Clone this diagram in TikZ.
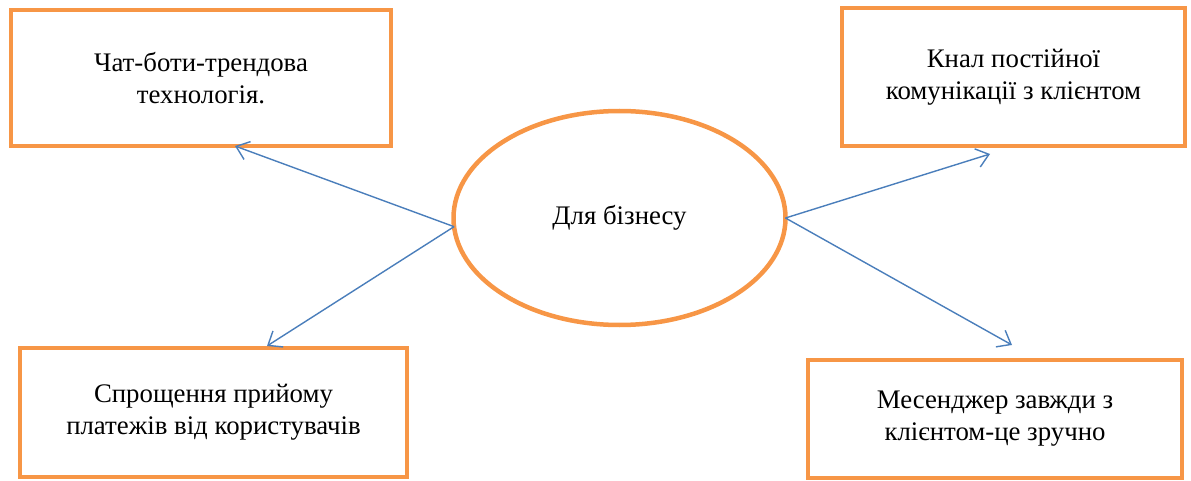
\documentclass[tikz,border=0pt]{standalone}
\usepackage{fontspec}
\setmainfont{Liberation Serif}
\usetikzlibrary{arrows.meta,shapes.geometric,calc}
\definecolor{boxorange}{HTML}{F79646}
\definecolor{linkblue}{HTML}{4A7EBB}
\tikzset{
  ideabox/.style={draw=boxorange, line width=4.5pt, rectangle, inner sep=0pt, outer sep=0pt,
    align=center, font=\fontsize{26.8}{32}\selectfont, text=black},
  hub/.style={draw=boxorange, line width=4.5pt, ellipse, inner sep=0pt, outer sep=0pt,
    minimum width=332pt, minimum height=214pt, font=\fontsize{26.8}{32}\selectfont},
  link/.style={draw=linkblue, line width=1.4pt, -{Straight Barb[length=12pt,width=19pt,line width=1.4pt]}}
}
\begin{document}
\begin{tikzpicture}[x=1pt,y=-1pt]
\useasboundingbox (0,0) rectangle (1191,481);
\node[ideabox, minimum width=380pt, minimum height=136pt] (tl) at (201,78) {Чат-боти-трендова\\технологія.};
\node[ideabox, minimum width=343pt, minimum height=138pt] (tr) at (1013.5,77) {Кнал постійної\\комунікації з клієнтом};
\node[ideabox, minimum width=387pt, minimum height=129pt] (bl) at (213.5,412.5) {Спрощення прийому\\платежів від користувачів};
\node[ideabox, minimum width=374pt, minimum height=118pt] (br) at (995,419) {Месенджер завжди з\\клієнтом-це зручно};
\node[hub] (e) at (619.5,218) {Для бізнесу};
\draw[link] (e.183) -- ([xshift=224pt]tl.south west);
\draw[link] (e.183) -- ([xshift=247pt,yshift=2pt]bl.north west);
\draw[link] (e.east) -- ([xshift=148pt,yshift=-8pt]tr.south west);
\draw[link] (e.east) -- ([xshift=204pt,yshift=15pt]br.north west);
\end{tikzpicture}
\end{document}
